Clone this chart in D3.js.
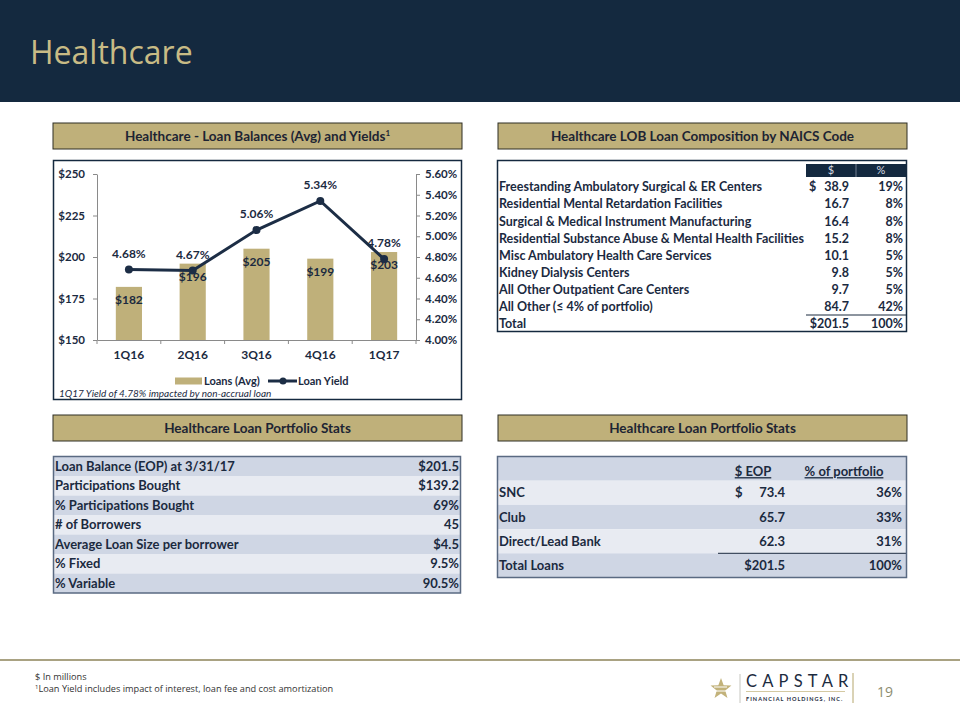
<!DOCTYPE html>
<html><head><meta charset="utf-8">
<script src="https://cdn.jsdelivr.net/npm/d3@7"></script>
<style>body{margin:0;background:#fff}svg{display:block}</style>
</head><body><svg id="c" width="960" height="720"></svg>
<script>
// ---------- data ----------
const quarters = ["1Q16", "2Q16", "3Q16", "4Q16", "1Q17"];
const loansAvg = [182, 196, 205, 199, 203];
const loanYield = [4.68, 4.67, 5.06, 5.34, 4.78];
const loanTicks = [150, 175, 200, 225, 250];
const yieldTicks = [4.0, 4.2, 4.4, 4.6, 4.8, 5.0, 5.2, 5.4, 5.6];

const naicsLabels = [
  "Freestanding Ambulatory Surgical & ER Centers",
  "Residential Mental Retardation Facilities",
  "Surgical & Medical Instrument Manufacturing",
  "Residential Substance Abuse & Mental Health Facilities",
  "Misc Ambulatory Health Care Services",
  "Kidney Dialysis Centers",
  "All Other Outpatient Care Centers",
  "All Other (\u2264 4% of portfolio)",
  "Total"
];
const naicsValues = [38.9, 16.7, 16.4, 15.2, 10.1, 9.8, 9.7, 84.7, 201.5];
const naicsPct = [19, 8, 8, 8, 5, 5, 5, 42, 100];

const statLabels = ["Loan Balance (EOP) at 3/31/17", "Participations Bought", "% Participations Bought",
  "# of Borrowers", "Average Loan Size per borrower", "% Fixed", "% Variable"];
const statValues = ["$201.5", "$139.2", "69%", "45", "$4.5", "9.5%", "90.5%"];

const channelLabels = ["SNC", "Club", "Direct/Lead Bank", "Total Loans"];
const channelEOP = [73.4, 65.7, 62.3, 201.5];
const channelPct = [36, 33, 31, 100];

// ---------- styles ----------
const NAVY = "#14293f", TAN = "#bfb07a", INK = "#1b2a3f";
const SHADE = "#cfd6e4", LIGHT = "#e8ebf2";
const F = "Lato, 'Open Sans', sans-serif";
const svg = d3.select("#c");

// header band
svg.append("rect").attr("x", 0).attr("y", 0).attr("width", 960).attr("height", 102).attr("fill", NAVY);
svg.append("text").attr("x", 30).attr("y", 64).text("Healthcare")
  .attr("fill", "#c8bb85").attr("font-family", "'Open Sans', sans-serif").attr("font-size", 32);

function sectionHeader(x, y, w, h, txt) {
  svg.append("rect").attr("x", x).attr("y", y).attr("width", w).attr("height", h)
    .attr("fill", TAN).attr("stroke", "#2e2e24").attr("stroke-width", 1);
  const t = svg.append("text").attr("x", x + w / 2).attr("y", y + h / 2).attr("dy", "0.35em")
    .attr("text-anchor", "middle").attr("font-family", F).attr("font-weight", "bold")
    .attr("font-size", 13.5).attr("fill", "#1d2433");
  return t.text(txt);
}
const h1 = sectionHeader(53, 123, 409, 26, "Healthcare - Loan Balances (Avg) and Yields");
h1.append("tspan").attr("font-size", 8).attr("dy", "-0.6em").text("1");
sectionHeader(498, 123, 409, 26, "Healthcare LOB Loan Composition by NAICS Code");
sectionHeader(53, 415, 409, 26, "Healthcare Loan Portfolio Stats");
sectionHeader(498, 415, 409, 26, "Healthcare Loan Portfolio Stats");

// ---------- chart ----------
svg.append("rect").attr("x", 53.5).attr("y", 160.5).attr("width", 408).attr("height", 239)
  .attr("fill", "#fff").attr("stroke", NAVY).attr("stroke-width", 1.5);

const x = d3.scaleBand().domain(quarters).range([97, 416]).paddingInner(0.59).paddingOuter(0.295);
const yL = d3.scaleLinear().domain([150, 250]).range([340, 174]);
const yR = d3.scaleLinear().domain([4.0, 5.6]).range([340, 174]);

const g = svg.append("g");
g.selectAll("rect.bar").data(quarters).join("rect").attr("class", "bar")
  .attr("x", d => x(d)).attr("width", x.bandwidth())
  .attr("y", (d, i) => yL(loansAvg[i])).attr("height", (d, i) => yL(150) - yL(loansAvg[i]))
  .attr("fill", TAN);

function styleAxis(sel) {
  sel.selectAll("path,line").attr("stroke", "#8a8a8a");
  sel.selectAll("text").attr("font-family", F).attr("font-weight", "bold").attr("font-size", 11.5).attr("fill", INK);
}
g.append("g").attr("transform", "translate(97,0)")
  .call(d3.axisLeft(yL).tickValues(loanTicks).tickSize(4).tickSizeOuter(0).tickPadding(8).tickFormat(d => "$" + d))
  .call(styleAxis);
g.append("g").attr("transform", "translate(416,0)")
  .call(d3.axisRight(yR).tickValues(yieldTicks).tickSize(4).tickSizeOuter(0).tickPadding(5).tickFormat(d => d3.format(".2f")(d) + "%"))
  .call(styleAxis);
// category axis
const xa = g.append("g").attr("transform", "translate(0,340)")
  .call(d3.axisBottom(x).tickSize(0).tickSizeOuter(0).tickPadding(10)).call(styleAxis);
xa.selectAll("text").attr("font-size", 12);
const half = (x.step() - x.bandwidth()) / 2;
const bounds = quarters.map(q => x(q) - half).concat([x(quarters[quarters.length - 1]) + x.bandwidth() + half]);
g.selectAll("line.ct").data(bounds).join("line").attr("class", "ct")
  .attr("x1", d => d).attr("x2", d => d).attr("y1", 340).attr("y2", 344).attr("stroke", "#8a8a8a");

// bar labels
g.selectAll("text.bl").data(quarters).join("text").attr("class", "bl")
  .attr("x", d => x(d) + x.bandwidth() / 2).attr("y", (d, i) => yL(loansAvg[i]) + 13).attr("dy", "0.35em")
  .attr("text-anchor", "middle").attr("font-family", F).attr("font-weight", "bold").attr("font-size", 12).attr("fill", INK)
  .text((d, i) => "$" + loansAvg[i]);

// line
const line = d3.line().x((d, i) => x(quarters[i]) + x.bandwidth() / 2).y(d => yR(d));
g.append("path").datum(loanYield).attr("d", line).attr("fill", "none").attr("stroke", "#1c2d45").attr("stroke-width", 3);
g.selectAll("circle.pt").data(loanYield).join("circle").attr("class", "pt")
  .attr("cx", (d, i) => x(quarters[i]) + x.bandwidth() / 2).attr("cy", d => yR(d)).attr("r", 4).attr("fill", "#1c2d45");
g.selectAll("text.yl").data(loanYield).join("text").attr("class", "yl")
  .attr("x", (d, i) => x(quarters[i]) + x.bandwidth() / 2).attr("y", d => yR(d) - 16).attr("dy", "0.35em")
  .attr("text-anchor", "middle").attr("font-family", F).attr("font-weight", "bold").attr("font-size", 12).attr("fill", INK)
  .text(d => d.toFixed(2) + "%");

// legend
g.append("rect").attr("x", 175).attr("y", 377.5).attr("width", 27).attr("height", 7).attr("fill", TAN);
g.append("text").attr("x", 204).attr("y", 381).attr("dy", "0.35em").attr("font-family", F).attr("font-weight", "bold")
  .attr("font-size", 11).attr("fill", INK).text("Loans (Avg)");
g.append("line").attr("x1", 268).attr("x2", 297).attr("y1", 381).attr("y2", 381).attr("stroke", "#1c2d45").attr("stroke-width", 3);
g.append("circle").attr("cx", 283).attr("cy", 381).attr("r", 3.5).attr("fill", "#1c2d45");
g.append("text").attr("x", 298).attr("y", 381).attr("dy", "0.35em").attr("font-family", F).attr("font-weight", "bold")
  .attr("font-size", 11).attr("fill", INK).text("Loan Yield");
g.append("text").attr("x", 59).attr("y", 393).attr("dy", "0.35em").attr("font-family", F).attr("font-style", "italic")
  .attr("font-size", 10).attr("fill", INK).text("1Q17 Yield of 4.78% impacted by non-accrual loan");

// ---------- NAICS table ----------
svg.append("rect").attr("x", 497.5).attr("y", 160.5).attr("width", 409).attr("height", 171)
  .attr("fill", "#fff").attr("stroke", NAVY).attr("stroke-width", 1.5);
svg.append("rect").attr("x", 806).attr("y", 164).attr("width", 100).attr("height", 13).attr("fill", NAVY);
svg.append("line").attr("x1", 856).attr("x2", 856).attr("y1", 164).attr("y2", 177).attr("stroke", "#8894a6").attr("stroke-width", 0.8);
[["$", 831], ["%", 881]].forEach(([t, cx]) => svg.append("text").attr("x", cx).attr("y", 170.5).attr("dy", "0.35em")
  .attr("text-anchor", "middle").attr("font-family", F).attr("font-size", 11).attr("fill", "#d7dbe3").text(t));
const rowY = i => 187 + i * 17.1;
const nt = svg.append("g").attr("font-family", F).attr("font-weight", "bold").attr("font-size", 12.5).attr("fill", INK);
naicsLabels.forEach((lab, i) => {
  nt.append("text").attr("x", 499).attr("y", rowY(i)).attr("dy", "0.35em").text(lab);
  const last = i === naicsLabels.length - 1;
  if (i === 0) nt.append("text").attr("x", 809).attr("y", rowY(i)).attr("dy", "0.35em").text("$");
  nt.append("text").attr("x", 849).attr("y", rowY(i)).attr("dy", "0.35em").attr("text-anchor", "end")
    .text((last ? "$" : "") + naicsValues[i].toFixed(1));
  nt.append("text").attr("x", 903).attr("y", rowY(i)).attr("dy", "0.35em").attr("text-anchor", "end").text(naicsPct[i] + "%");
});
svg.append("line").attr("x1", 806).attr("x2", 906).attr("y1", 315).attr("y2", 315).attr("stroke", INK).attr("stroke-width", 1);

// ---------- left stats table ----------
const sRowH = 19.5, sTop = 456.5;
const st = svg.append("g");
statLabels.forEach((lab, i) => {
  st.append("rect").attr("x", 53.5).attr("y", sTop + i * sRowH).attr("width", 407).attr("height", sRowH)
    .attr("fill", i % 2 === 0 ? SHADE : LIGHT);
});
statLabels.forEach((lab, i) => {
  const cy = sTop + i * sRowH + sRowH / 2;
  st.append("text").attr("x", 55).attr("y", cy).attr("dy", "0.35em").attr("font-family", F).attr("font-weight", "bold")
    .attr("font-size", 13).attr("fill", INK).text(lab);
  st.append("text").attr("x", 459).attr("y", cy).attr("dy", "0.35em").attr("text-anchor", "end").attr("font-family", F)
    .attr("font-weight", "bold").attr("font-size", 13).attr("fill", INK).text(statValues[i]);
});
svg.append("rect").attr("x", 53.5).attr("y", sTop).attr("width", 407).attr("height", sRowH * statLabels.length)
  .attr("fill", "none").attr("stroke", "#5a6a82").attr("stroke-width", 1.5);

// ---------- right stats table ----------
const cRowH = 24.2, cTop = 456.5;
const ct = svg.append("g");
for (let i = 0; i <= channelLabels.length; i++) {
  ct.append("rect").attr("x", 497.5).attr("y", cTop + i * cRowH).attr("width", 409).attr("height", cRowH)
    .attr("fill", i % 2 === 0 ? SHADE : LIGHT);
}
[["$ EOP", 753], ["% of portfolio", 844]].forEach(([t, cx]) => ct.append("text").attr("x", cx).attr("y", cTop + cRowH / 2 + 3)
  .attr("dy", "0.35em").attr("text-anchor", "middle").attr("font-family", F).attr("font-weight", "bold").attr("font-size", 13)
  .attr("fill", INK).attr("text-decoration", "underline").text(t));
channelLabels.forEach((lab, i) => {
  const cy = cTop + (i + 1) * cRowH + cRowH / 2;
  const last = i === channelLabels.length - 1;
  const tx = (xx, anchor, s) => ct.append("text").attr("x", xx).attr("y", cy).attr("dy", "0.35em").attr("text-anchor", anchor)
    .attr("font-family", F).attr("font-weight", "bold").attr("font-size", 13).attr("fill", INK).text(s);
  tx(499, "start", lab);
  if (i === 0) tx(735, "start", "$");
  tx(785, "end", (last ? "$" : "") + channelEOP[i].toFixed(1));
  tx(902, "end", channelPct[i] + "%");
});
ct.append("line").attr("x1", 718).attr("x2", 906).attr("y1", cTop + 4 * cRowH).attr("y2", cTop + 4 * cRowH)
  .attr("stroke", INK).attr("stroke-width", 1);
svg.append("rect").attr("x", 497.5).attr("y", cTop).attr("width", 409).attr("height", cRowH * 5)
  .attr("fill", "none").attr("stroke", "#5a6a82").attr("stroke-width", 1.5);

// ---------- footer ----------
svg.append("line").attr("x1", 0).attr("x2", 960).attr("y1", 660).attr("y2", 660).attr("stroke", "#8c8358").attr("stroke-width", 1.5);
svg.append("text").attr("x", 35).attr("y", 677).attr("dy", "0.35em").attr("font-family", "'Open Sans', sans-serif")
  .attr("font-size", 9.2).attr("fill", "#333").text("$ In millions");
const fn = svg.append("text").attr("x", 35).attr("y", 691).attr("dy", "0.35em").attr("font-family", "'Open Sans', sans-serif")
  .attr("font-size", 9.2).attr("fill", "#333");
fn.append("tspan").attr("font-size", 6).attr("dy", "-0.3em").text("1");
fn.append("tspan").attr("dy", "0.3em").text("Loan Yield includes impact of interest, loan fee and cost amortization");

// logo
const star = d3.range(10).map(k => {
  const r = k % 2 === 0 ? 11 : 4.5, a = -Math.PI / 2 + k * Math.PI / 5;
  return [721 + r * Math.cos(a), 689 + r * Math.sin(a)];
});
svg.append("path").attr("d", d3.line()(star) + "Z").attr("fill", "#c2b27a");
svg.append("path").attr("d", "M714,687 L727,687 M716,691 L726,691").attr("stroke", "#fff").attr("stroke-width", 1);
svg.append("line").attr("x1", 740).attr("x2", 740).attr("y1", 674).attr("y2", 703).attr("stroke", "#b8b8b0").attr("stroke-width", 0.8);
svg.append("text").attr("x", 746).attr("y", 687).attr("font-family", F).attr("font-size", 16.5).attr("letter-spacing", 5.2)
  .attr("fill", "#1c2b40").text("CAPSTAR");
svg.append("line").attr("x1", 746).attr("x2", 845).attr("y1", 691.5).attr("y2", 691.5).attr("stroke", "#c2b27a").attr("stroke-width", 0.7);
svg.append("text").attr("x", 746).attr("y", 700.5).attr("font-family", F).attr("font-weight", "bold").attr("font-size", 5.5)
  .attr("letter-spacing", 1.05).attr("fill", "#1c2b40").text("FINANCIAL HOLDINGS, INC.");
svg.append("line").attr("x1", 853).attr("x2", 853).attr("y1", 673).attr("y2", 703).attr("stroke", "#b5a66c").attr("stroke-width", 1);
svg.append("text").attr("x", 877).attr("y", 692).attr("dy", "0.35em").attr("font-family", "'Open Sans', sans-serif")
  .attr("font-size", 14).attr("fill", "#8d8d70").text("19");
</script></body></html>
